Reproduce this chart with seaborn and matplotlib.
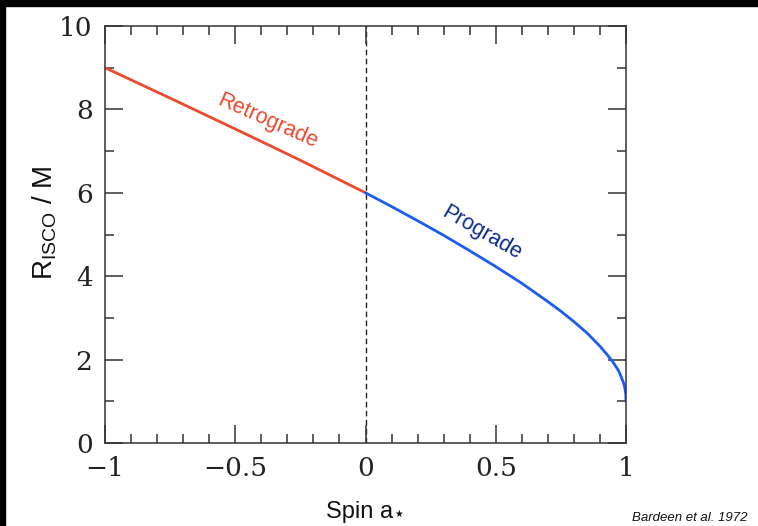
import numpy as np
import pandas as pd
import matplotlib
matplotlib.use("Agg")
import matplotlib.pyplot as plt
import seaborn as sns
from matplotlib.ticker import MultipleLocator

# ---- data ----
retro_spin = [-1.0, -0.75, -0.5, -0.25, 0.0]
retro_r = [9.0, 8.27, 7.53, 6.78, 6.0]
pro_spin = [0.0, 0.1, 0.2, 0.3, 0.4, 0.5, 0.6, 0.7, 0.75, 0.8, 0.85, 0.9, 0.93, 0.95,
            0.97, 0.98, 0.99, 0.995, 0.999, 1.0]
pro_r = [6.0, 5.67, 5.33, 4.98, 4.61, 4.23, 3.83, 3.39, 3.16, 2.91, 2.64, 2.32, 2.10, 1.94,
         1.75, 1.61, 1.45, 1.34, 1.18, 1.0]
x_ticks = [-1, -0.5, 0, 0.5, 1]
x_ticklabels = ["\u22121", "\u22120.5", "0", "0.5", "1"]
y_ticks = [0, 2, 4, 6, 8, 10]

df = pd.concat([
    pd.DataFrame({"spin": retro_spin, "r": retro_r, "orbit": "Retrograde"}),
    pd.DataFrame({"spin": pro_spin, "r": pro_r, "orbit": "Prograde"}),
])

sns.set_theme(style="white")
plt.rcParams["font.family"] = ["DejaVu Sans"]

fig = plt.figure(figsize=(7.58, 5.26), dpi=100)
fig.patch.set_facecolor("white")
ax = fig.add_axes([105 / 758, 1 - 443 / 526, 521 / 758, 417 / 526])

red = "#ec4a2e"
blue = "#1c5cf5"
sns.lineplot(data=df, x="spin", y="r", hue="orbit",
             palette={"Retrograde": red, "Prograde": blue},
             linewidth=2.0, legend=False, ax=ax, sort=False)
ax.axvline(0, color="#222222", linestyle=(0, (4, 2.5)), linewidth=1.0, zorder=0)

ax.set_xlim(-1, 1)
ax.set_ylim(0, 10)
ax.set_xticks(x_ticks)
ax.set_xticklabels(x_ticklabels)
ax.set_yticks(y_ticks)
ax.xaxis.set_minor_locator(MultipleLocator(0.1))
ax.yaxis.set_minor_locator(MultipleLocator(1))
ax.tick_params(which="both", direction="in", top=True, right=True, bottom=True, left=True,
               color="#333333", width=1.1)
ax.tick_params(which="major", length=13, pad=9)
ax.tick_params(which="minor", length=6.5)
for lab in ax.get_xticklabels() + ax.get_yticklabels():
    lab.set_family("DejaVu Serif")
    lab.set_fontsize(19)
    lab.set_color("#222222")
for sp in ax.spines.values():
    sp.set_color("#333333")
    sp.set_linewidth(1.1)

ax.set_xlabel("")
ax.set_ylabel("")
fig.text(45 / 758, 1 - 223 / 526, r"R$_\mathregular{ISCO}$ / M", rotation=90,
         ha="center", va="center", fontsize=20, family="Liberation Sans", color="#111111")
fig.text(326 / 758, 1 - 518 / 526, "Spin a", ha="left", va="baseline",
         fontsize=17, family="Liberation Sans", color="#111111")
fig.text(399 / 758, 1 - 514 / 526, "\u2605", ha="center", va="center",
         fontsize=7, family="DejaVu Sans", color="#111111")
fig.text(690 / 758, 1 - 518 / 526, "Bardeen et al. 1972", ha="center", va="center",
         fontsize=9.5, style="italic", family="Liberation Sans", color="#111111")

ax.text(-0.374, 7.72, "Retrograde", rotation=-24, rotation_mode="anchor",
        ha="center", va="center", fontsize=15.5, color=red, family="Liberation Sans")
ax.text(0.445, 5.04, "Prograde", rotation=-30, rotation_mode="anchor",
        ha="center", va="center", fontsize=15.5, color="#0d2c8c", family="Liberation Sans")

# black frame bands at top and left of the slide
fig.patches.append(plt.Rectangle((0, 1 - 6 / 526), 1, 6 / 526, transform=fig.transFigure,
                                 color="black", zorder=10))
fig.patches.append(plt.Rectangle((0, 0), 5 / 758, 1, transform=fig.transFigure,
                                 color="black", zorder=10))

fig.savefig("out.png", dpi=100)
